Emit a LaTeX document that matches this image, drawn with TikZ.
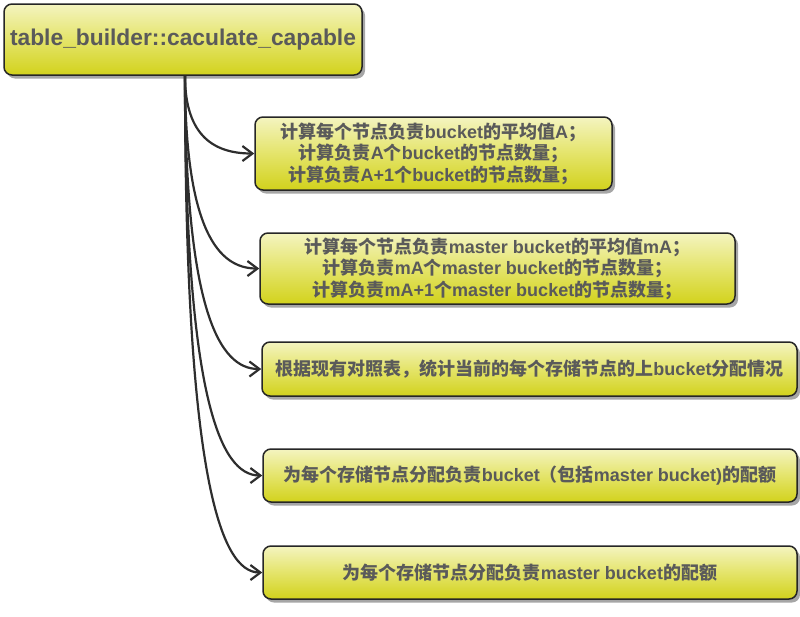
\documentclass[tikz,border=0pt]{standalone}
\usepackage{fontspec}
\setmainfont{Liberation Sans}
\newfontfamily\cjk{Noto Sans CJK SC}
\usetikzlibrary{arrows.meta,shadows,calc}
\newcommand\zh[1]{{\cjk\bfseries #1}}
\definecolor{txt}{HTML}{5A5A5A}
\definecolor{topc}{HTML}{F4F4C0}
\definecolor{midc}{HTML}{E4E46A}
\definecolor{botc}{HTML}{D2D21C}
\definecolor{edge}{HTML}{262626}
\definecolor{lnc}{HTML}{2E2E2E}
\tikzset{
  boxstyle/.style={draw=edge, line width=1.5pt, rounded corners=8pt,
    top color=topc, bottom color=botc, middle color=midc,
    drop shadow={shadow xshift=3pt, shadow yshift=-3.5pt, fill=black!35, opacity=1},
    text=txt, font=\bfseries\fontsize{18}{21.5}\selectfont, align=center,
    inner sep=0pt, anchor=center},
  conn/.style={draw=lnc, line width=2.2pt, -{Straight Barb[length=10pt,width=15pt,line width=2.2pt]}}
}
\begin{document}
\begin{tikzpicture}[x=1pt,y=-1pt]
\useasboundingbox (0,0) rectangle (800,616);
\node[boxstyle, minimum width=358pt, minimum height=71pt,
  font=\bfseries\fontsize{22.8}{26}\selectfont] (root) at (183,39.5) {table\_builder::caculate\_capable};
\node[boxstyle, minimum width=357pt, minimum height=73pt] (b1) at (433.5,153.5)
  {\zh{计算每个节点负责}bucket\zh{的平均值}A\zh{；}\\
   \zh{计算负责}A\zh{个}bucket\zh{的节点数量；}\\
   \zh{计算负责}A+1\zh{个}bucket\zh{的节点数量；}};
\node[boxstyle, minimum width=475pt, minimum height=71pt] (b2) at (497.5,268.5)
  {\zh{计算每个节点负责}master bucket\zh{的平均值}mA\zh{；}\\
   \zh{计算负责}mA\zh{个}master bucket\zh{的节点数量；}\\
   \zh{计算负责}mA+1\zh{个}master bucket\zh{的节点数量；}};
\node[boxstyle, minimum width=535pt, minimum height=54pt] (b3) at (529.5,369)
  {\zh{根据现有对照表，统计当前的每个存储节点的上}bucket\zh{分配情况}};
\node[boxstyle, minimum width=534pt, minimum height=53pt] (b4) at (530,475.5)
  {\zh{为每个存储节点分配负责}bucket\zh{（包括}master bucket)\zh{的配额}};
\node[boxstyle, minimum width=534pt, minimum height=53pt] (b5) at (530,572.5)
  {\zh{为每个存储节点分配负责}master bucket\zh{的配额}};
\coordinate (s) at ([xshift=2pt]root.south);
\foreach \b in {b1,b2,b3,b4,b5}{
  \draw[conn] (s) .. controls ($(s)!0.8!(s |- \b.west)$) and ($(s |- \b.west)!0.45!(\b.west)$) .. (\b.west);
}
\end{tikzpicture}
\end{document}
